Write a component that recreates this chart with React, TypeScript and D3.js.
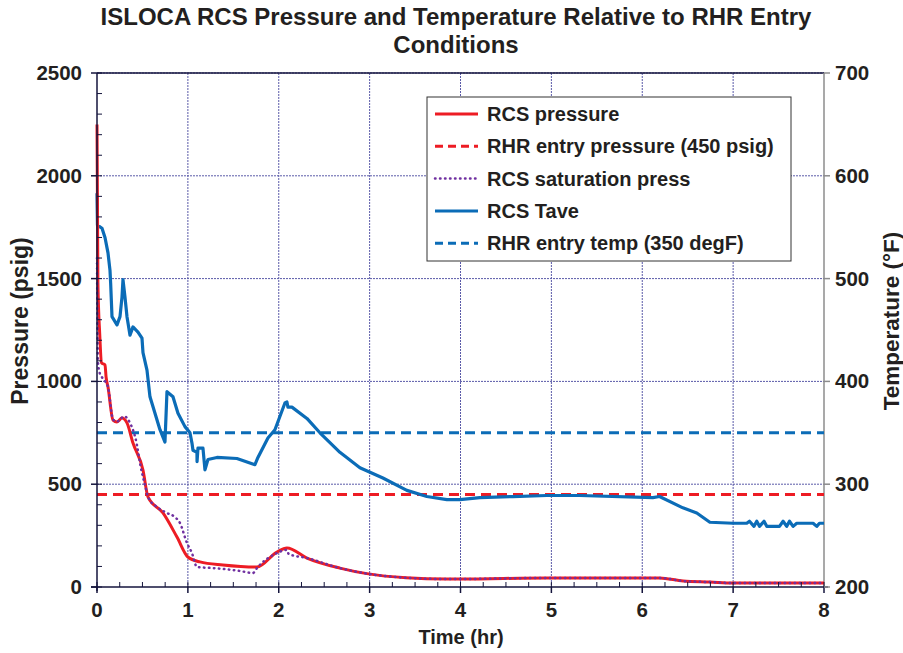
import React from "react";
import * as d3 from "d3";

const title1 = "ISLOCA RCS Pressure and Temperature Relative to RHR Entry";
const title2 = "Conditions";

const timeTicks = [0, 1, 2, 3, 4, 5, 6, 7, 8];
const pressureTicks = [0, 500, 1000, 1500, 2000, 2500];
const tempTicks = [200, 300, 400, 500, 600, 700];

const rhrEntryPressure = 450;
const rhrEntryTemp = 350;

// RCS pressure (psig)
const pressTime = [0, 0.01, 0.03, 0.05, 0.088, 0.1, 0.121, 0.176, 0.22, 0.275, 0.33, 0.396, 0.506, 0.561, 0.726, 0.88, 1.0, 1.133, 1.386, 1.76, 1.98, 2.09, 2.31, 2.673, 2.97, 3.4, 3.85, 4.0, 4.95, 5.5, 6.19, 6.45, 6.744, 7.0, 8.0];
const pressVal = [2250, 1480, 1230, 1090, 1080, 1021, 973, 812, 803, 822, 798, 700, 569, 438, 360, 243, 146, 122, 107, 97, 170, 190, 141, 92, 65, 45, 39, 39, 44, 44, 44, 29, 24, 19, 19];

// RCS saturation pressure (psig)
const satTime = [0, 0.01, 0.03, 0.055, 0.09, 0.121, 0.176, 0.22, 0.3, 0.363, 0.44, 0.473, 0.54, 0.561, 0.66, 0.77, 0.858, 0.913, 0.99, 1.045, 1.1, 1.276, 1.573, 1.716, 1.76, 1.98, 2.09, 2.11, 2.31, 2.673, 2.97, 3.4, 3.85, 4.0, 4.95, 5.5, 6.19, 6.45, 6.744, 7.0, 8.0];
const satVal = [1600, 1100, 1040, 1020, 1000, 973, 815, 805, 830, 798, 690, 603, 475, 438, 389, 360, 340, 311, 214, 165, 97, 92, 78, 68, 92, 165, 180, 160, 141, 92, 65, 45, 39, 39, 44, 44, 44, 29, 24, 19, 19];

// RCS Tave (degF)
const taveTime = [0, 0.005, 0.055, 0.088, 0.121, 0.143, 0.15, 0.165, 0.22, 0.253, 0.275, 0.286, 0.308, 0.33, 0.363, 0.396, 0.451, 0.495, 0.506, 0.55, 0.583, 0.638, 0.693, 0.748, 0.77, 0.836, 0.891, 0.968, 1.023, 1.045, 1.056, 1.1, 1.101, 1.111, 1.166, 1.188, 1.221, 1.32, 1.54, 1.738, 1.771, 1.881, 1.958, 2.068, 2.09, 2.101, 2.145, 2.31, 2.453, 2.673, 2.893, 3.146, 3.41, 3.63, 3.85, 3.993, 4.213, 4.576, 4.95, 5.31, 6.117, 6.19, 6.447, 6.6, 6.744, 7.0, 7.15, 7.18, 7.23, 7.26, 7.29, 7.34, 7.37, 7.51, 7.55, 7.59, 7.62, 7.66, 7.7, 7.88, 7.92, 7.95, 8.0];
const taveVal = [583, 552, 549, 540, 525, 508, 496, 463, 455, 463, 482, 499, 482, 463, 445, 453, 448, 442, 428, 411, 385, 369, 353, 341, 390, 385, 369, 356, 350, 340, 333, 331, 322, 335, 335, 314, 324, 326, 325, 319, 326, 345, 353, 379, 380, 375, 375, 364, 350, 331, 316, 306, 294, 288, 285, 285, 287, 288, 289, 289, 287, 288, 277, 272, 263, 262, 262, 264, 259, 264, 259, 264, 259, 259, 264, 259, 264, 259, 262, 262, 259, 262, 262];

const legendItems = [
  "RCS pressure",
  "RHR entry pressure (450 psig)",
  "RCS saturation press",
  "RCS Tave",
  "RHR entry temp (350 degF)",
];

const RED = "#ed1c24";
const BLUE = "#0b6cb7";
const PURPLE = "#7030a0";
const NAVY = "#14143c";
const GRID = "#5a5aa8";
const INK = "#231f20";
const FONT = "'Liberation Sans', Arial, Helvetica, sans-serif";

export default function App() {
  const W = 903, H = 653;
  const L = 97, R = 824, T = 73, B = 587;
  const x = d3.scaleLinear().domain([0, 8]).range([L, R]);
  const yP = d3.scaleLinear().domain([0, 2500]).range([B, T]);
  const yT = d3.scaleLinear().domain([200, 700]).range([B, T]);

  const pLine = d3.line<number>().x((_, i) => x(pressTime[i])).y((d) => yP(d)).curve(d3.curveMonotoneX);
  const sLine = d3.line<number>().x((_, i) => x(satTime[i])).y((d) => yP(d)).curve(d3.curveMonotoneX);
  const tLine = d3.line<number>().x((_, i) => x(taveTime[i])).y((d) => yT(d));

  const minorP = d3.range(0, 2501, 100);
  const minorX = d3.range(0, 8.001, 0.25);

  const legendStyles = [
    { stroke: RED, dash: undefined, w: 3 },
    { stroke: RED, dash: "8,5", w: 3 },
    { stroke: PURPLE, dash: "0.5,4.5", w: 2.5 },
    { stroke: BLUE, dash: undefined, w: 3 },
    { stroke: BLUE, dash: "8,5", w: 3 },
  ];

  return (
    <svg width={W} height={H} style={{ position: "absolute", left: 0, top: 0, background: "#fff" }} fontFamily={FONT}>
      {/* title */}
      <text x={456} y={25} textAnchor="middle" fontSize={24} fontWeight="bold" fill={INK}>{title1}</text>
      <text x={456} y={53} textAnchor="middle" fontSize={24} fontWeight="bold" fill={INK}>{title2}</text>

      {/* grid */}
      {pressureTicks.filter((d) => d > 0).map((d) => (
        <line key={"gh" + d} x1={L} x2={R} y1={yP(d)} y2={yP(d)} stroke={GRID} strokeWidth={1} strokeDasharray="2,1" />
      ))}
      {timeTicks.filter((d) => d > 0 && d < 8).map((d) => (
        <line key={"gv" + d} x1={x(d)} x2={x(d)} y1={T} y2={B} stroke={GRID} strokeWidth={1} strokeDasharray="2,1" />
      ))}
      <line x1={L} x2={R} y1={T} y2={T} stroke={NAVY} strokeWidth={1.5} />
      <line x1={R} x2={R} y1={T} y2={B} stroke="#8c8c8c" strokeWidth={1.5} />

      {/* reference lines */}
      <line x1={L} x2={R} y1={yT(rhrEntryTemp)} y2={yT(rhrEntryTemp)} stroke={BLUE} strokeWidth={3} strokeDasharray="10,6" />
      <line x1={L} x2={R} y1={yP(rhrEntryPressure)} y2={yP(rhrEntryPressure)} stroke={RED} strokeWidth={3} strokeDasharray="10,6" />

      {/* series */}
      <path d={tLine(taveVal) || ""} fill="none" stroke={BLUE} strokeWidth={3.2} strokeLinejoin="round" />
      <path d={pLine(pressVal) || ""} fill="none" stroke={RED} strokeWidth={3} strokeLinejoin="round" />
      <path d={sLine(satVal) || ""} fill="none" stroke={PURPLE} strokeWidth={2.5} strokeDasharray="0.5,4.5" strokeLinecap="round" />

      {/* left axis */}
      <line x1={L} x2={L} y1={T} y2={B + 4} stroke={NAVY} strokeWidth={1.5} />
      {minorP.map((d) => (
        <line key={"mp" + d} x1={L} x2={L + 5} y1={yP(d)} y2={yP(d)} stroke={NAVY} strokeWidth={1} />
      ))}
      {pressureTicks.map((d) => (
        <g key={"tp" + d}>
          <line x1={L - 6} x2={L} y1={yP(d)} y2={yP(d)} stroke={NAVY} strokeWidth={1.5} />
          <text x={82} y={yP(d) + 7} textAnchor="end" fontSize={20.5} fontWeight="bold" fill={INK}>{d}</text>
        </g>
      ))}

      {/* bottom axis */}
      <line x1={L - 6} x2={R + 4} y1={B} y2={B} stroke={NAVY} strokeWidth={1.5} />
      {minorX.map((d) => (
        <line key={"mx" + d} x1={x(d)} x2={x(d)} y1={B - 5} y2={B} stroke={NAVY} strokeWidth={1} />
      ))}
      {timeTicks.map((d) => (
        <g key={"tx" + d}>
          <line x1={x(d)} x2={x(d)} y1={B} y2={B + 6} stroke={NAVY} strokeWidth={1.5} />
          <text x={x(d)} y={617} textAnchor="middle" fontSize={20.5} fontWeight="bold" fill={INK}>{d}</text>
        </g>
      ))}

      {/* right axis */}
      {tempTicks.map((d) => (
        <g key={"tt" + d}>
          <line x1={R} x2={R + 6} y1={yT(d)} y2={yT(d)} stroke="#8c8c8c" strokeWidth={1.5} />
          <text x={835} y={yT(d) + 7} textAnchor="start" fontSize={20.5} fontWeight="bold" fill={INK}>{d}</text>
        </g>
      ))}

      {/* axis titles */}
      <text x={461} y={644} textAnchor="middle" fontSize={20} fontWeight="bold" fill={INK}>Time (hr)</text>
      <text transform={`translate(28,321) rotate(-90)`} textAnchor="middle" fontSize={23} fontWeight="bold" fill={INK}>Pressure (psig)</text>
      <text transform={`translate(899,321) rotate(-90)`} textAnchor="middle" fontSize={22.5} fontWeight="bold" fill={INK}>Temperature (°F)</text>

      {/* legend */}
      <rect x={427} y={97} width={364} height={164} fill="#fff" stroke="#333" strokeWidth={1} />
      {legendItems.map((name, i) => {
        const cy = 114 + i * 32.3;
        const s = legendStyles[i];
        return (
          <g key={name}>
            <line x1={435} x2={478} y1={cy} y2={cy} stroke={s.stroke} strokeWidth={s.w}
              strokeDasharray={s.dash} strokeLinecap={i === 2 ? "round" : "butt"} />
            <text x={487} y={cy + 7} fontSize={20} fontWeight="bold" fill={INK}>{name}</text>
          </g>
        );
      })}
    </svg>
  );
}
